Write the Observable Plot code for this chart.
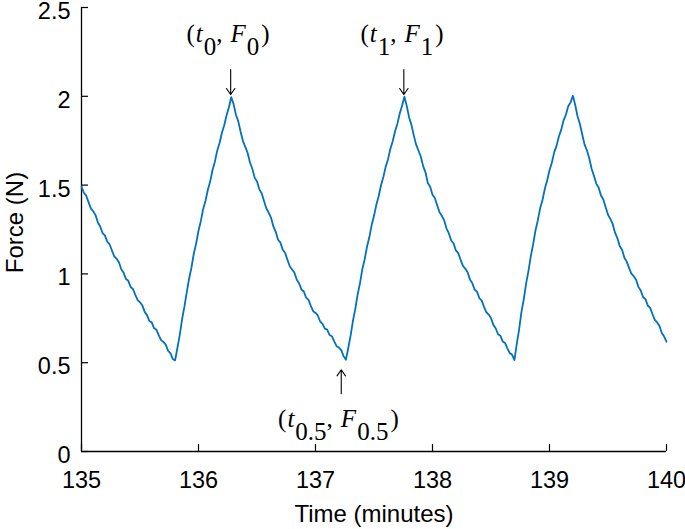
<!DOCTYPE html>
<html><head><meta charset="utf-8">
<script src="https://cdn.jsdelivr.net/npm/d3@7"></script>
<script src="https://cdn.jsdelivr.net/npm/@observablehq/plot@0.6"></script>
<style>body{margin:0;background:#fff}</style>
</head><body><div id="chart"></div>
<script>
// Time (minutes)
const time = [
135.00,135.02,135.04,135.06,135.08,135.10,135.12,135.14,135.16,135.18,135.20,135.22,135.24,135.26,135.28,135.30,135.32,135.34,135.36,135.38,135.40,135.42,135.44,135.46,135.48,135.50,135.52,135.54,135.56,135.58,135.60,135.62,135.64,135.66,135.68,135.70,135.72,135.74,135.76,135.78,135.80,
135.82,135.84,135.86,135.88,135.90,135.92,135.94,135.96,135.98,136.00,136.02,136.04,136.06,136.08,136.10,136.12,136.14,136.16,136.18,136.20,136.22,136.24,136.26,136.28,
136.30,136.32,136.34,136.36,136.38,136.40,136.42,136.44,136.46,136.48,136.50,136.52,136.54,136.56,136.58,136.60,136.62,136.64,136.66,136.68,136.70,136.72,136.74,136.76,136.78,136.80,136.82,136.84,136.86,136.88,136.90,136.92,136.94,136.96,136.98,137.00,137.02,137.04,137.06,137.08,137.10,137.12,137.14,137.16,137.18,137.20,137.22,137.24,137.26,
137.28,137.30,137.32,137.34,137.36,137.38,137.40,137.42,137.44,137.46,137.48,137.50,137.52,137.54,137.56,137.58,137.60,137.62,137.64,137.66,137.68,137.70,137.72,137.74,137.76,
137.78,137.80,137.82,137.84,137.86,137.88,137.90,137.92,137.94,137.96,137.98,138.00,138.02,138.04,138.06,138.08,138.10,138.12,138.14,138.16,138.18,138.20,138.22,138.24,138.26,138.28,138.30,138.32,138.34,138.36,138.38,138.40,138.42,138.44,138.46,138.48,138.50,138.52,138.54,138.56,138.58,138.60,138.62,138.64,138.66,138.68,138.70,
138.72,138.74,138.76,138.78,138.80,138.82,138.84,138.86,138.88,138.90,138.92,138.94,138.96,138.98,139.00,139.02,139.04,139.06,139.08,139.10,139.12,139.14,139.16,139.18,139.20,
139.22,139.24,139.26,139.28,139.30,139.32,139.34,139.36,139.38,139.40,139.42,139.44,139.46,139.48,139.50,139.52,139.54,139.56,139.58,139.60,139.62,139.64,139.66,139.68,139.70,139.72,139.74,139.76,139.78,139.80,139.82,139.84,139.86,139.88,139.90,139.92,139.94,139.96,139.98,140.00
];
// Force (N)
const force = [
1.492,1.457,1.441,1.404,1.369,1.353,1.331,1.289,1.267,1.230,1.217,1.181,1.167,1.132,1.099,1.085,1.066,1.026,1.006,0.971,0.961,0.926,0.915,0.882,0.852,0.840,0.823,0.786,0.768,0.735,0.727,0.695,0.686,0.655,0.627,0.617,0.602,0.567,0.554,0.521,0.513,
0.584,0.657,0.746,0.817,0.899,0.974,1.036,1.115,1.172,1.243,1.297,1.366,1.412,1.474,1.521,1.585,1.632,1.694,1.737,1.795,1.837,1.893,1.938,1.995,
1.956,1.896,1.859,1.800,1.748,1.715,1.681,1.627,1.592,1.542,1.521,1.476,1.454,1.410,1.368,1.345,1.316,1.267,1.237,1.192,1.176,1.136,1.119,1.080,1.043,1.025,1.006,0.967,0.947,0.912,0.901,0.866,0.854,0.820,0.790,0.780,0.766,0.732,0.719,0.692,0.686,0.656,0.649,0.620,0.593,0.585,0.571,0.537,0.517,
0.583,0.652,0.736,0.802,0.884,0.947,1.026,1.081,1.153,1.206,1.275,1.327,1.389,1.437,1.499,1.546,1.604,1.646,1.705,1.747,1.803,1.846,1.903,1.947,1.998,
1.946,1.881,1.839,1.780,1.728,1.695,1.661,1.607,1.572,1.512,1.491,1.446,1.427,1.386,1.347,1.327,1.301,1.255,1.228,1.188,1.172,1.132,1.117,1.080,1.045,1.030,1.009,0.969,0.948,0.912,0.900,0.864,0.851,0.816,0.784,0.771,0.752,0.713,0.694,0.660,0.652,0.620,0.611,0.581,0.554,0.546,0.515,
0.604,0.686,0.785,0.857,0.945,1.016,1.099,1.166,1.244,1.301,1.369,1.416,1.479,1.526,1.584,1.626,1.684,1.721,1.774,1.811,1.864,1.896,1.944,1.966,2.003,
1.951,1.886,1.844,1.785,1.728,1.695,1.651,1.592,1.552,1.507,1.486,1.441,1.419,1.375,1.333,1.310,1.281,1.232,1.202,1.157,1.136,1.091,1.069,1.034,1.001,0.987,0.967,0.927,0.906,0.870,0.858,0.822,0.809,0.774,0.741,0.727,0.707,0.667,0.647,0.618
];
const xTicks = [135, 136, 137, 138, 139, 140];
const yTicks = [0, 0.5, 1, 1.5, 2, 2.5];
const xLabel = "Time (minutes)";
const yLabel = "Force (N)";
// annotations: arrows and (t, F) labels
const arrowTime = [136.275, 137.755, 137.22];
const arrowFrom = [2.15, 2.15, 0.325];
const arrowTo = [2.01, 2.01, 0.46];
const labelTime = [136.256, 137.744, 137.20];
const labelForce = [2.303, 2.303, 0.135];
const labelSub = ["0", "1", "0.5"];

const n = Math.min(time.length, force.length);
const series = [];
for (let i = 0; i < n; i++) series.push({t: time[i], f: force[i]});
const arrows = arrowTime.map((t, i) => ({t, f1: arrowFrom[i], f2: arrowTo[i]}));
const fmt = d => String(d);

const hasAxisMarks = typeof Plot.axisX === "function";
const axisMarks = hasAxisMarks ? [
  Plot.axisX({ticks: xTicks, tickSize: 0, tickPadding: 20, tickFormat: fmt, stroke: "none", label: null}),
  Plot.axisX({ticks: xTicks, tickSize: 7, dy: -7, fill: "none", label: null, strokeWidth: 1.2}),
  Plot.axisY({ticks: yTicks, tickSize: 0, tickPadding: 11, dy: 4, tickFormat: fmt, stroke: "none", label: null}),
  Plot.axisY({ticks: yTicks, tickSize: 7, dx: 7, fill: "none", label: null, strokeWidth: 1.2})
] : [];

const plot = Plot.plot({
  width: 685, height: 529,
  marginLeft: 81, marginRight: 19, marginTop: 7, marginBottom: 78,
  style: {fontFamily: "'Liberation Sans', Arial, sans-serif", fontSize: "23.5px", background: "#fff", color: "#000"},
  x: {domain: [135, 140], ticks: xTicks, tickSize: -7, tickPadding: 20, tickFormat: fmt, label: null},
  y: {domain: [0, 2.5], ticks: yTicks, tickSize: -7, tickPadding: 11, tickFormat: fmt, label: null},
  marks: [
    ...axisMarks,
    Plot.ruleX([135], {y1: 0, y2: 2.5, stroke: "#000", strokeWidth: 1.3}),
    Plot.ruleY([0], {x1: 135, x2: 140, stroke: "#000", strokeWidth: 1.3}),
    Plot.line(series, {x: "t", y: "f", stroke: "#0072BD", strokeWidth: 1.8}),
    Plot.arrow(arrows, {x1: "t", x2: "t", y1: "f1", y2: "f2", stroke: "#000", strokeWidth: 1.1, headLength: 10, headAngle: 70, insetEnd: 0, insetStart: 0}),
    Plot.text([xLabel], {frameAnchor: "bottom", dy: 70, text: d => d, fontSize: 24, fill: "#000", textAnchor: "middle", lineAnchor: "bottom"}),
    Plot.text([yLabel], {frameAnchor: "left", dx: -59, dy: -7, rotate: -90, text: d => d, fontSize: 24, fill: "#000", textAnchor: "middle", lineAnchor: "bottom"})
  ]
});

const sx = plot.scale("x"), sy = plot.scale("y");
const svg = d3.select(plot);
labelTime.forEach((t, i) => {
  const txt = svg.append("text")
    .attr("x", sx.apply(t)).attr("y", sy.apply(labelForce[i]))
    .attr("text-anchor", "middle")
    .attr("font-family", "'Liberation Serif', 'Times New Roman', serif")
    .attr("font-size", 25).attr("fill", "#000");
  txt.append("tspan").text("(");
  txt.append("tspan").attr("font-style", "italic").attr("dx", 1).text("t");
  txt.append("tspan").attr("dy", 13).attr("dx", 1).text(labelSub[i]);
  txt.append("tspan").attr("dy", -13).text(",");
  txt.append("tspan").attr("font-style", "italic").attr("dx", 8).text("F");
  txt.append("tspan").attr("dy", 13).attr("dx", 1).text(labelSub[i]);
  txt.append("tspan").attr("dy", -13).attr("dx", 2).text(")");
});
document.getElementById("chart").appendChild(plot);
</script>
</body></html>
